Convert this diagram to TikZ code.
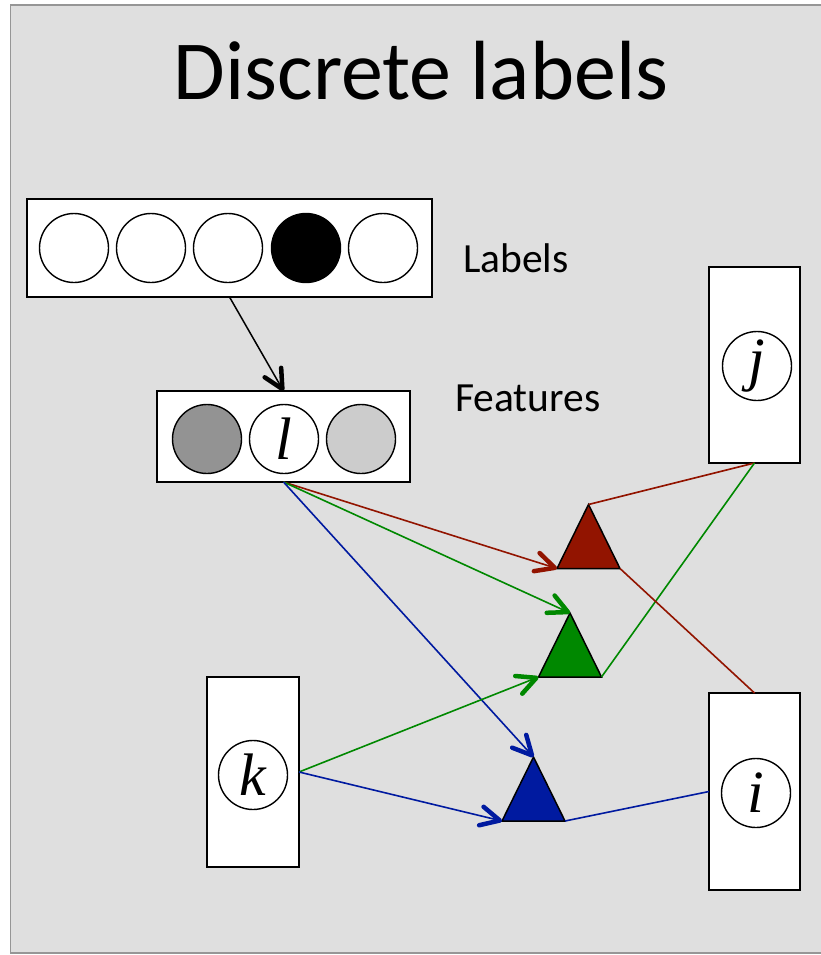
\documentclass[tikz,border=0pt]{standalone}
\usepackage{fontspec}
\setmainfont{Carlito}
\newfontfamily\varfont{Liberation Serif}
\usetikzlibrary{arrows.meta}

\definecolor{bgpanel}{RGB}{223,223,223}
\definecolor{panelrule}{RGB}{150,150,150}
\definecolor{fdark}{RGB}{147,147,147}
\definecolor{flight}{RGB}{204,204,204}
\definecolor{fred}{RGB}{146,20,0}
\definecolor{fgreen}{RGB}{0,136,0}
\definecolor{fblue}{RGB}{0,26,160}

\tikzset{
  box/.style={draw=black, line width=1.5pt, fill=white, inner sep=0pt, outer sep=0pt},
  unit/.style={circle, draw=black, line width=1.4pt, fill=white, minimum size=69pt, inner sep=0pt},
  var/.style={unit, font=\varfont\itshape\fontsize{60}{60}\selectfont},
  tip/.style={-{Straight Barb[length=19pt, width=19pt, line width=4.5pt, round]}},
  link/.style={line width=1.6pt},
  caption/.style={anchor=base west, inner sep=0pt, font=\fontsize{41.5}{41.5}\selectfont},
  pics/tri/.style={code={
    \path[draw=black, line width=1.5pt, fill=#1, line join=miter]
      (0,-32) coordinate (-apex) -- (31.5,32) coordinate (-right)
      -- (-31.5,32) coordinate (-left) -- cycle;
  }}
}

\begin{document}
\begin{tikzpicture}[x=1pt, y=-1pt]
\useasboundingbox (0,0) rectangle (820,955);
\fill[white] (0,0) rectangle (820,955);
\fill[bgpanel] (10.5,5) rectangle (830,953);
\draw[panelrule, line width=1.5pt] (830,5) -- (10.5,5) -- (10.5,953) -- (830,953);

% title
\node[anchor=base, inner sep=0pt, font=\fontsize{84}{84}\selectfont] (title) at (421,100) {Discrete labels};

% label layer: five units, one active
\node[box, minimum width=405pt, minimum height=98pt] (labels) at (229.5,248) {};
\node[unit] (u1) at (74,248) {};
\node[unit] (u2) at (151,248) {};
\node[unit] (u3) at (228,248) {};
\node[unit, fill=black] (u4) at (306,248) {};
\node[unit] (u5) at (383,248) {};
\node[caption] (labtxt) at (463,272.7) {Labels};

% feature layer
\node[box, minimum width=253pt, minimum height=91pt] (features) at (283.5,436.5) {};
\node[unit, fill=fdark] (f1) at (207,439) {};
\node[var] (fl) at (284,439) {l};
\node[unit, fill=flight] (f3) at (361,439) {};
\node[caption] (feattxt) at (455,411.7) {Features};

% variable nodes
\node[box, minimum width=91pt, minimum height=196pt] (jbox) at (754.5,365) {};
\node[var] (jv) at (757,366) {j};
\node[box, minimum width=92pt, minimum height=190pt] (kbox) at (253,772) {};
\node[var] (kv) at (253,775) {k};
\node[box, minimum width=91pt, minimum height=197pt] (ibox) at (754.5,791.5) {};
\node[var] (iv) at (756,793) {i};

% factors
\pic (rt) at (588.5,536.5) {tri=fred};
\pic (gt) at (570,645) {tri=fgreen};
\pic (bt) at (533.5,789) {tri=fblue};

% connectors
\draw[link, line width=1.5pt, tip] (labels.south) -- (features.north);

\draw[link, fred, tip] (features.south) -- (rt-left);
\draw[link, fgreen, tip] (features.south) -- (gt-apex);
\draw[link, fblue, tip] (features.south) -- (bt-apex);

\draw[link, fgreen, tip] (kbox.east) -- (gt-left);
\draw[link, fblue, tip] (kbox.east) -- (bt-left);

\draw[link, fred] (rt-apex) -- (jbox.south);
\draw[link, fgreen] (gt-right) -- (jbox.south);
\draw[link, fred] (rt-right) -- (ibox.north);
\draw[link, fblue] (bt-right) -- (ibox.west);
\end{tikzpicture}
\end{document}
